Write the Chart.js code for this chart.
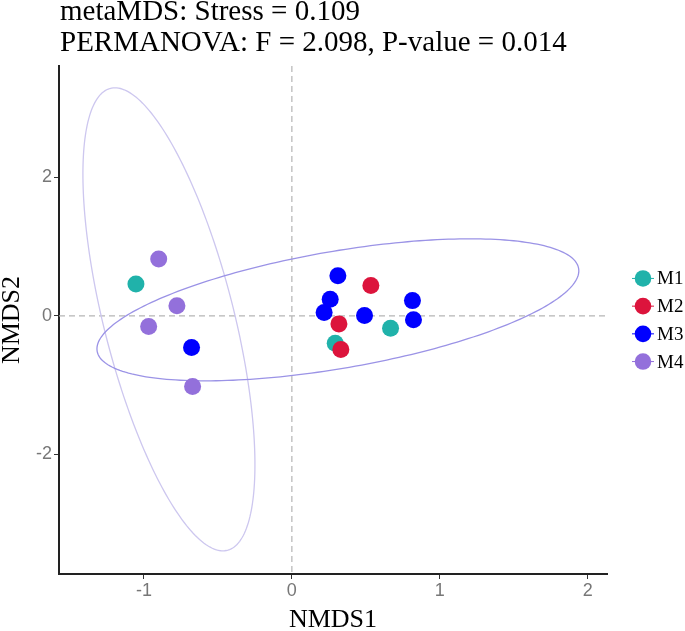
<!DOCTYPE html>
<html>
<head>
<meta charset="utf-8">
<script src="https://cdn.jsdelivr.net/npm/chart.js@4.4.1/dist/chart.umd.min.js"></script>
<style>
  html, body { margin: 0; padding: 0; background: #fff; }
  #wrap { width: 685px; height: 631px; position: relative; }
</style>
</head>
<body>
<div id="wrap"><canvas id="chart"></canvas></div>
<script>
"use strict";

const groups = ['M1', 'M2', 'M3', 'M4'];
const groupColors = ['#20b2aa', '#dc143c', '#0000ff', '#9370db'];

// NMDS scores
const m1X = [-1.054, 0.667, 0.293];
const m1Y = [0.46, -0.178, -0.395];
const m2X = [0.534, 0.318, 0.331];
const m2Y = [0.44, -0.116, -0.487];
const m3X = [0.311, 0.259, 0.218, 0.491, 0.815, 0.822, -0.678];
const m3Y = [0.578, 0.24, 0.05, 0.005, 0.22, -0.058, -0.458];
const m4X = [-0.90, -0.777, -0.968, -0.671];
const m4Y = [0.82, 0.145, -0.155, -1.02];

const xTicks = [-1, 0, 1, 2];
const yTicks = [-2, 0, 2];
const xRange = [-1.574, 2.13];
const yRange = [-3.73, 3.61];

const titleLines = ['metaMDS: Stress = 0.109', 'PERMANOVA: F = 2.098, P-value = 0.014'];

// confidence ellipses: centre + covariance (data units)
const ellipseCx = [-0.831, 0.311];
const ellipseCy = [-0.05, 0.087];
const ellipseSxx = [0.338, 2.652];
const ellipseSxy = [-1.22, 0.918];
const ellipseSyy = [11.19, 1.053];
const ellipseColors = ['#cdc7ef', '#9b93e6'];

const serif = '"Liberation Serif", "Times New Roman", serif';
const sans = '"Liberation Sans", Arial, sans-serif';

function toPoints(xs, ys) {
  return xs.map((v, i) => ({ x: v, y: ys[i] }));
}

const allX = [m1X, m2X, m3X, m4X];
const allY = [m1Y, m2Y, m3Y, m4Y];

const datasets = groups.map((g, i) => ({
  label: g,
  data: toPoints(allX[i], allY[i]),
  backgroundColor: groupColors[i],
  borderWidth: 0,
  pointRadius: 8.5,
  pointHoverRadius: 8.5,
  order: groups.length - i
}));

const extras = {
  id: 'extras',
  beforeDatasetsDraw(chart) {
    const { ctx, chartArea: a, scales: { x, y } } = chart;
    ctx.save();
    // dashed zero lines
    ctx.strokeStyle = '#b5b5b5';
    ctx.lineWidth = 1.2;
    ctx.setLineDash([6, 4]);
    const x0 = x.getPixelForValue(0);
    const y0 = y.getPixelForValue(0);
    ctx.beginPath();
    ctx.moveTo(a.left, y0); ctx.lineTo(a.right, y0);
    ctx.moveTo(x0, a.top); ctx.lineTo(x0, a.bottom);
    ctx.stroke();
    ctx.setLineDash([]);

    // ellipses
    for (let i = 0; i < ellipseCx.length; i++) {
      const sy = Math.sqrt(ellipseSyy[i]);
      const v1x = ellipseSxy[i] / sy;
      const v2x = Math.sqrt(ellipseSxx[i] - ellipseSxy[i] * ellipseSxy[i] / ellipseSyy[i]);
      ctx.strokeStyle = ellipseColors[i];
      ctx.lineWidth = 1.3;
      ctx.beginPath();
      for (let k = 0; k <= 240; k++) {
        const t = k / 240 * Math.PI * 2;
        const dx = ellipseCx[i] + v1x * Math.cos(t) + v2x * Math.sin(t);
        const dy = ellipseCy[i] + sy * Math.cos(t);
        const px = x.getPixelForValue(dx), py = y.getPixelForValue(dy);
        if (k === 0) ctx.moveTo(px, py); else ctx.lineTo(px, py);
      }
      ctx.closePath();
      ctx.stroke();
    }
    ctx.restore();
  },
  afterDraw(chart) {
    const { ctx, chartArea: a } = chart;
    ctx.save();
    // title
    ctx.fillStyle = '#000';
    ctx.font = '29px ' + serif;
    ctx.textBaseline = 'alphabetic';
    ctx.textAlign = 'left';
    ctx.fillText(titleLines[0], 60, 20);
    ctx.fillText(titleLines[1], 60, 51);

    // legend
    const step = 27.7;
    const cy = (a.top + a.bottom) / 2 - step * (groups.length - 1) / 2;
    const cx = a.right + 36;
    ctx.font = '19px ' + serif;
    ctx.textBaseline = 'middle';
    chart.data.datasets.forEach((ds, i) => {
      const yy = cy + i * step;
      ctx.strokeStyle = ds.backgroundColor;
      ctx.lineWidth = 1;
      ctx.beginPath();
      ctx.moveTo(cx - 11, yy); ctx.lineTo(cx + 11, yy);
      ctx.stroke();
      ctx.fillStyle = ds.backgroundColor;
      ctx.beginPath();
      ctx.arc(cx, yy, 8.3, 0, Math.PI * 2);
      ctx.fill();
      ctx.fillStyle = '#000';
      ctx.fillText(ds.label, cx + 14, yy + 1);
    });
    ctx.restore();
  }
};

new Chart(document.getElementById('chart'), {
  type: 'scatter',
  data: { datasets: datasets },
  plugins: [extras],
  options: {
    responsive: true,
    maintainAspectRatio: false,
    animation: false,
    layout: { padding: { top: 66, right: 78, left: 0, bottom: 0 } },
    plugins: {
      legend: { display: false },
      tooltip: { enabled: false },
      title: { display: false }
    },
    scales: {
      x: {
        type: 'linear',
        min: xRange[0],
        max: xRange[1],
        afterBuildTicks: s => { s.ticks = xTicks.map(v => ({ value: v })); },
        afterFit: s => { s.height = 57; },
        grid: { drawOnChartArea: false, drawTicks: true, tickLength: 5, tickColor: '#333', tickWidth: 1 },
        border: { color: '#222', width: 2 },
        ticks: { color: '#777', font: { family: sans, size: 18 }, padding: 1 },
        title: { display: true, text: 'NMDS1', color: '#000', font: { family: serif, size: 26, lineHeight: 0.85 }, padding: { top: 0, bottom: 0 } }
      },
      y: {
        type: 'linear',
        min: yRange[0],
        max: yRange[1],
        afterBuildTicks: s => { s.ticks = yTicks.map(v => ({ value: v })); },
        afterFit: s => { s.width = 59; },
        grid: { drawOnChartArea: false, drawTicks: true, tickLength: 5, tickColor: '#333', tickWidth: 1 },
        border: { color: '#222', width: 2 },
        ticks: { color: '#777', font: { family: sans, size: 18 }, padding: 2 },
        title: { display: true, text: 'NMDS2', color: '#000', font: { family: serif, size: 26, lineHeight: 0.85 }, padding: { top: 1.5, bottom: 0 } }
      }
    }
  }
});
</script>
</body>
</html>
